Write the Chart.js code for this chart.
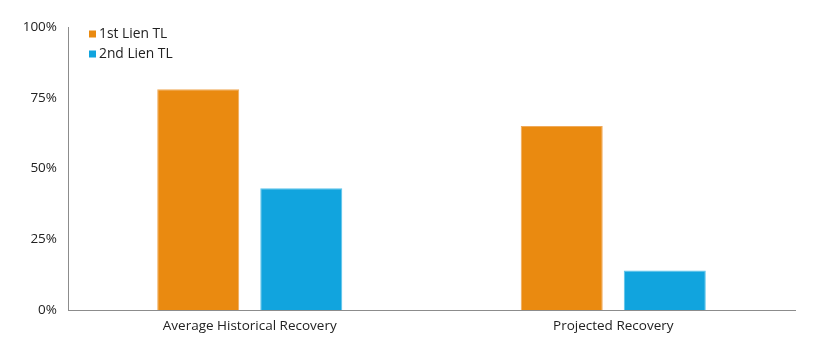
<!DOCTYPE html>
<html>
<head>
<meta charset="utf-8">
<script src="https://cdn.jsdelivr.net/npm/chart.js@4/dist/chart.umd.min.js"></script>
<style>
  html, body { margin: 0; padding: 0; background: #fff; }
  #wrap { width: 820px; height: 353px; }
</style>
</head>
<body>
<div id="wrap"><canvas id="chart"></canvas></div>
<script>
'use strict';
const categories = ['Average Historical Recovery', 'Projected Recovery'];
const firstLien = [78, 65];
const secondLien = [43, 14];
const seriesNames = ['1st Lien TL', '2nd Lien TL'];
const tickValues = [0, 25, 50, 75, 100];

const orange = 'rgb(234, 138, 16)';
const blue = 'rgb(17, 164, 222)';
const fontFamily = '"Open Sans", Lato, sans-serif';

// legend drawn inside the plot, top left
const innerLegend = {
  id: 'innerLegend',
  afterDraw(chart) {
    const ctx = chart.ctx;
    const area = chart.chartArea;
    ctx.save();
    ctx.font = '13.8px ' + fontFamily;
    ctx.textBaseline = 'middle';
    chart.data.datasets.forEach(function (ds, i) {
      const y = area.top + 7 + i * 20;
      const x = area.left + 21;
      ctx.fillStyle = ds.backgroundColor;
      ctx.fillRect(x, y - 3.5, 7, 7);
      ctx.fillStyle = '#222';
      ctx.fillText(ds.label, x + 10, y);
    });
    ctx.restore();
  }
};

const ctx = document.getElementById('chart').getContext('2d');
new Chart(ctx, {
  type: 'bar',
  data: {
    labels: categories,
    datasets: [
      {
        label: seriesNames[0],
        data: firstLien,
        backgroundColor: orange,
        borderColor: 'rgb(240, 170, 90)',
        borderWidth: 1,
        categoryPercentage: 0.567,
        barPercentage: 0.796
      },
      {
        label: seriesNames[1],
        data: secondLien,
        backgroundColor: blue,
        borderColor: 'rgb(90, 195, 235)',
        borderWidth: 1,
        categoryPercentage: 0.567,
        barPercentage: 0.796
      }
    ]
  },
  options: {
    responsive: true,
    maintainAspectRatio: false,
    animation: false,
    layout: { padding: { left: 0, right: 25, top: 27, bottom: 0 } },
    plugins: {
      legend: { display: false },
      tooltip: { enabled: false }
    },
    scales: {
      x: {
        grid: { display: false, drawTicks: false },
        border: { display: true, color: '#8c8c8c', width: 1 },
        ticks: {
          color: '#222',
          padding: 8,
          font: { family: fontFamily, size: 13.5 }
        },
        afterFit(scale) { scale.height = 43; }
      },
      y: {
        min: 0,
        max: 100,
        afterBuildTicks(scale) {
          scale.ticks = tickValues.map(function (v) { return { value: v }; });
        },
        grid: { display: false, drawTicks: false },
        border: { display: true, color: '#8c8c8c', width: 1 },
        ticks: {
          color: '#222',
          padding: 11,
          font: { family: fontFamily, size: 13.5 },
          callback: function (v) { return v + '%'; }
        },
        afterFit(scale) { scale.width = 68; }
      }
    }
  },
  plugins: [innerLegend]
});
</script>
</body>
</html>
